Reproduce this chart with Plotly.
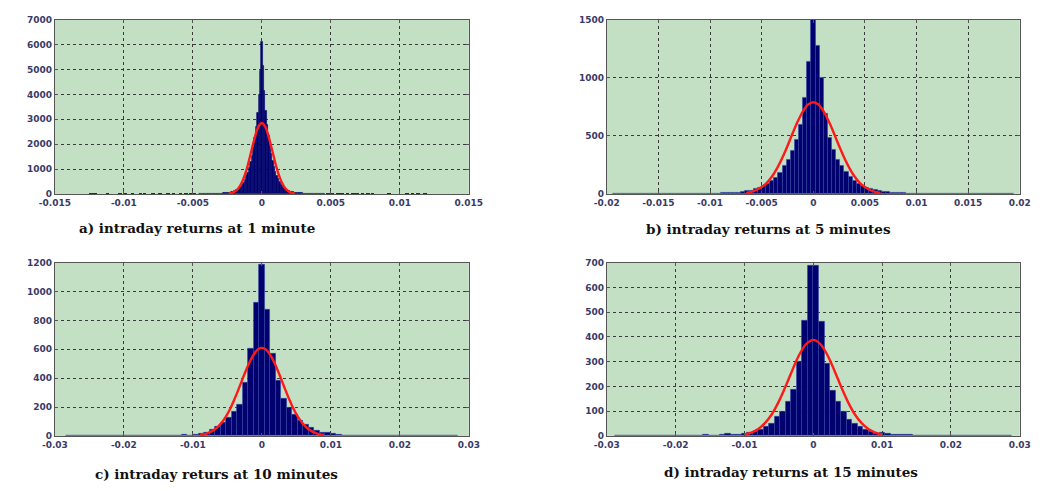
import plotly.graph_objects as go

# ---------------- data ----------------
# Panel a: 1-minute returns, bin width 0.0001, centers from -0.0045 to 0.0045
a_bin_start = -0.0045
a_bin_width = 0.0001
a_counts = [8, 9, 10, 10, 11, 12, 13, 15, 16, 17, 19, 21, 23, 25, 28, 31, 35, 39, 44, 50,
            57, 65, 75, 87, 103, 122, 146, 175, 212, 260, 315, 385, 470, 590, 720, 870,
            1050, 1280, 1560, 1880, 2250, 2700, 3250, 4000, 4950,
            6100,
            5150, 4150, 3350, 2800, 2350, 1950, 1620, 1320, 1080, 890, 740, 600, 480, 390,
            320, 265, 215, 178, 148, 124, 104, 88, 76, 66, 58, 51, 45, 40, 36, 32, 29, 26,
            24, 22, 20, 18, 17, 15, 14, 13, 12, 11, 10, 10, 9]
a_tail_x = [-0.0124, -0.0121, -0.0112, -0.0103, -0.0099, -0.0094, -0.0088, -0.0085,
            -0.0079, -0.0074, -0.0068, -0.0064, -0.0059, -0.0055, -0.0052, -0.0049,
            0.0048, 0.0051, 0.0055, 0.0058, 0.0062, 0.0066, 0.0069, 0.0073, 0.0077,
            0.0080, 0.0092, 0.0105, 0.0109, 0.0113, 0.0118]
a_tail_y = [22, 18, 22, 18, 22, 25, 18, 22, 25, 22, 25, 22, 28, 25, 28, 30,
            30, 28, 28, 25, 28, 25, 28, 25, 25, 22, 18, 22, 18, 22, 18]
a_fit_x = [-0.0024, -0.0022, -0.002, -0.0018, -0.0016, -0.0014, -0.0012, -0.001, -0.0008,
           -0.0006, -0.0004, -0.0002, 0.0, 0.0002, 0.0004, 0.0006, 0.0008, 0.001, 0.0012,
           0.0014, 0.0016, 0.0018, 0.002, 0.0022, 0.0024]
a_fit_y = [19, 43, 89, 173, 311, 522, 819, 1199, 1638, 2087, 2481, 2753, 2850,
           2753, 2481, 2087, 1638, 1199, 819, 522, 311, 173, 89, 43, 19]

# Panel b: 5-minute returns, bin width 0.0004, centers from -0.0192 to 0.0192
b_bin_start = -0.0192
b_bin_width = 0.0004
b_counts = [1, 1, 0, 1, 1, 1, 0, 1, 1, 1, 1, 1, 2, 1, 2, 2, 2, 2, 3, 3, 3, 4, 4, 5, 5, 6,
            8, 9, 11, 13, 16, 20, 25, 32, 42, 55, 72, 90, 115, 145, 185, 240, 295, 370,
            465, 600, 830, 1140,
            1500,
            1275, 1000, 690, 485, 380, 300, 240, 190, 150, 118, 92, 73, 58, 46, 36, 29,
            23, 18, 14, 11, 9, 8, 6, 5, 5, 4, 4, 3, 3, 2, 3, 2, 2, 1, 2, 1, 1, 1, 0, 1, 1,
            0, 1, 0, 1, 0, 0, 0]
b_fit_x = [-0.0065, -0.006, -0.0055, -0.005, -0.0045, -0.004, -0.0035, -0.003, -0.0025,
           -0.002, -0.0015, -0.001, -0.0005, 0.0, 0.0005, 0.001, 0.0015, 0.002, 0.0025,
           0.003, 0.0035, 0.004, 0.0045, 0.005, 0.0055, 0.006, 0.0065]
b_fit_y = [10, 19, 35, 60, 97, 151, 223, 312, 414, 523, 626, 712, 770, 790,
           770, 712, 626, 523, 414, 312, 223, 151, 97, 60, 35, 19, 10]

# Panel c: 10-minute returns, bin width 0.0008, centers from -0.028 to 0.028
c_bin_start = -0.028
c_bin_width = 0.0008
c_counts = [0, 3, 0, 0, 0, 0, 0, 0, 0, 0, 2, 2, 0, 2, 2, 3, 2, 3, 2, 3, 5, 8, 5, 8, 16,
            25, 45, 65, 90, 125, 170, 218, 372, 605, 923,
            1185,
            878, 568, 380, 262, 200, 150, 110, 80, 56, 38, 26, 22, 14, 8, 6, 5, 4, 3, 3,
            2, 2, 1, 2, 0, 1, 0, 3, 1, 0, 0, 2, 0, 0, 0, 0]
c_fit_x = [-0.009, -0.0085, -0.008, -0.0075, -0.007, -0.0065, -0.006, -0.0055, -0.005,
           -0.0045, -0.004, -0.0035, -0.003, -0.0025, -0.002, -0.0015, -0.001, -0.0005,
           0.0, 0.0005, 0.001, 0.0015, 0.002, 0.0025, 0.003, 0.0035, 0.004, 0.0045,
           0.005, 0.0055, 0.006, 0.0065, 0.007, 0.0075, 0.008, 0.0085, 0.009]
c_fit_y = [7, 11, 17, 27, 40, 58, 83, 114, 152, 198, 251, 309, 370, 431, 488, 538, 577,
           602, 610, 602, 577, 538, 488, 431, 370, 309, 251, 198, 152, 114, 83, 58, 40,
           27, 17, 11, 7]

# Panel d: 15-minute returns, bin width 0.0008, centers from -0.0284 to 0.0284
d_bin_start = -0.0284
d_bin_width = 0.0008
d_counts = [0, 0, 0, 0, 0, 0, 0, 0, 2, 0, 2, 3, 1, 3, 2, 2, 6, 2, 3, 5, 8, 6, 5, 8, 12,
            16, 24, 36, 52, 78, 100, 140, 189, 301, 464, 689,
            688, 460, 292, 185, 140, 100, 68, 50, 36, 25, 17, 11, 13, 8, 6, 5, 5, 4, 2, 2,
            1, 1, 0, 1, 0, 2, 1, 0, 0, 0, 0, 0, 0, 3, 0, 0]
d_fit_x = [-0.01, -0.009, -0.008, -0.007, -0.006, -0.005, -0.004, -0.003, -0.002, -0.001,
           0.0, 0.001, 0.002, 0.003, 0.004, 0.005, 0.006, 0.007, 0.008, 0.009, 0.01]
d_fit_y = [7, 14, 28, 53, 89, 140, 202, 269, 330, 372, 388, 372, 330, 269, 202, 140, 89,
           53, 28, 14, 7]

# Axis ticks
a_xticks = [-0.015, -0.01, -0.005, 0, 0.005, 0.01, 0.015]
a_xlabels = ["-0.015", "-0.01", "-0.005", "0", "0.005", "0.01", "0.015"]
a_yticks = [0, 1000, 2000, 3000, 4000, 5000, 6000, 7000]
b_xticks = [-0.02, -0.015, -0.01, -0.005, 0, 0.005, 0.01, 0.015, 0.02]
b_xlabels = ["-0.02", "-0.015", "-0.01", "-0.005", "0", "0.005", "0.01", "0.015", "0.02"]
b_yticks = [0, 500, 1000, 1500]
cd_xticks = [-0.03, -0.02, -0.01, 0, 0.01, 0.02, 0.03]
cd_xlabels = ["-0.03", "-0.02", "-0.01", "0", "0.01", "0.02", "0.03"]
c_yticks = [0, 200, 400, 600, 800, 1000, 1200]
d_yticks = [0, 100, 200, 300, 400, 500, 600, 700]

captions = ["a) intraday returns at 1 minute", "b) intraday returns at 5 minutes",
            "c) intraday returs at 10 minutes", "d) intraday returns at 15 minutes"]

# ---------------- figure ----------------
W, H = 1060, 491
BAR = "#00006e"
EDGE = "rgba(50,70,170,0.9)"
RED = "#ff1a1a"
BG = "#c4e0c4"
TICKFONT = dict(family="DejaVu Sans", size=9, color="#3a3a66", weight="bold")

fig = go.Figure()


def centers(start, width, n):
    return [start + i * width for i in range(n)]


def add_panel(idx, start, width, counts, fit_x, fit_y, edge_color, edge_w):
    ax = "" if idx == 1 else str(idx)
    fig.add_trace(go.Bar(x=centers(start, width, len(counts)), y=counts, width=width,
                         marker=dict(color=BAR, line=dict(color=edge_color, width=edge_w)),
                         xaxis="x" + ax, yaxis="y" + ax, showlegend=False, hoverinfo="skip"))
    fig.add_trace(go.Scatter(x=fit_x, y=fit_y, mode="lines", line=dict(color=RED, width=2.4,
                             shape="spline"), xaxis="x" + ax, yaxis="y" + ax, showlegend=False))


add_panel(1, a_bin_start, a_bin_width, a_counts, a_fit_x, a_fit_y, BAR, 0.5)
fig.add_trace(go.Bar(x=a_tail_x, y=a_tail_y, width=0.00025,
                     marker=dict(color="#22226e", line=dict(width=0)),
                     xaxis="x", yaxis="y", showlegend=False, hoverinfo="skip"))
add_panel(2, b_bin_start, b_bin_width, b_counts, b_fit_x, b_fit_y, EDGE, 0.6)
add_panel(3, c_bin_start, c_bin_width, c_counts, c_fit_x, c_fit_y, EDGE, 0.6)
add_panel(4, d_bin_start, d_bin_width, d_counts, d_fit_x, d_fit_y, EDGE, 0.6)


def px(v):
    return v / W


def py(v):
    return 1 - v / H


def xaxis_cfg(domain, rng, vals, labels, anchor):
    return dict(domain=domain, range=rng, tickvals=vals, ticktext=labels, anchor=anchor,
                showgrid=True, gridcolor="#3a3a3a", griddash="3px,3px", gridwidth=1,
                showline=True, linecolor="#555555", linewidth=1, mirror="ticks",
                ticks="inside", ticklen=3, tickcolor="#555555", zeroline=False,
                tickfont=TICKFONT, fixedrange=True)


def yaxis_cfg(domain, rng, vals, anchor):
    return dict(domain=domain, range=rng, tickvals=vals, ticktext=[str(v) for v in vals],
                anchor=anchor, showgrid=True, gridcolor="#3a3a3a", griddash="3px,3px",
                gridwidth=1, showline=True, linecolor="#555555", linewidth=1,
                mirror="ticks", ticks="inside", ticklen=3, tickcolor="#555555",
                zeroline=False, tickfont=TICKFONT, fixedrange=True)


top_dom = [py(193), py(15)]
bot_dom = [py(440), py(263)]
left_dom = [px(40), px(466)]
right_dom = [px(608), px(1033)]

fig.update_layout(
    width=W, height=H, margin=dict(l=0, r=0, t=0, b=0),
    paper_bgcolor="white", plot_bgcolor=BG, barmode="overlay", bargap=0,
    xaxis=xaxis_cfg(left_dom, [-0.015, 0.015], a_xticks, a_xlabels, "y"),
    yaxis=yaxis_cfg(top_dom, [0, 7000], a_yticks, "x"),
    xaxis2=xaxis_cfg(right_dom, [-0.02, 0.02], b_xticks, b_xlabels, "y2"),
    yaxis2=yaxis_cfg(top_dom, [0, 1500], b_yticks, "x2"),
    xaxis3=xaxis_cfg(left_dom, [-0.03, 0.03], cd_xticks, cd_xlabels, "y3"),
    yaxis3=yaxis_cfg(bot_dom, [0, 1200], c_yticks, "x3"),
    xaxis4=xaxis_cfg(right_dom, [-0.03, 0.03], cd_xticks, cd_xlabels, "y4"),
    yaxis4=yaxis_cfg(bot_dom, [0, 700], d_yticks, "x4"),
)

cap_pos = [(186, 228), (774, 229), (206, 479), (798, 477)]
for text, (cx, cy) in zip(captions, cap_pos):
    fig.add_annotation(text="<b>" + text + "</b>", x=px(cx), y=py(cy), xref="paper",
                       yref="paper", showarrow=False, xanchor="center", yanchor="middle",
                       font=dict(family="DejaVu Serif", size=13.5, color="#111111"))

fig.write_html("out.html")
